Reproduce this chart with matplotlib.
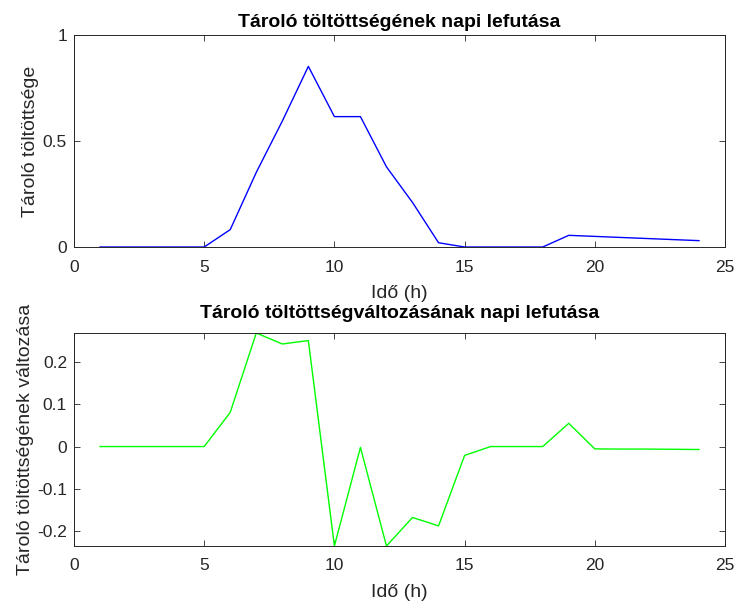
import matplotlib
matplotlib.use('Agg')
import matplotlib.pyplot as plt

plt.rcParams['font.family'] = ['Liberation Sans', 'DejaVu Sans']

# hours of the day
hours = list(range(1, 25))

# storage state of charge
charge = [0, 0, 0, 0, 0, 0.082, 0.352, 0.594, 0.852, 0.615, 0.615, 0.378,
          0.21, 0.02, 0, 0, 0, 0, 0.055, 0.05, 0.045, 0.04, 0.035, 0.03]

# change of state of charge
change = [0, 0, 0, 0, 0, 0.081, 0.269, 0.243, 0.251, -0.2356, -0.002, -0.2356,
          -0.168, -0.188, -0.021, 0, 0, 0, 0.055, -0.0055, -0.006, -0.006, -0.0065, -0.007]

text_col = '#262626'


def style(ax):
    ax.tick_params(direction='in', top=True, right=True, colors=text_col,
                   labelsize=12.5, length=4, width=0.6)
    ax.tick_params(axis='x', pad=9)
    ax.tick_params(axis='y', pad=5)
    for s in ax.spines.values():
        s.set_linewidth(0.7)
        s.set_color(text_col)
    ax.set_xlim(0, 25)
    ax.set_xticks([0, 5, 10, 15, 20, 25])


fig = plt.figure(figsize=(7.38, 6.02), dpi=100)
ax1 = fig.add_axes([74 / 738, 1 - 247 / 602, 651 / 738, 212 / 602])
ax2 = fig.add_axes([74 / 738, 1 - 546 / 602, 651 / 738, 213 / 602])

ax1.plot(hours, charge, color=(0, 0, 1), lw=1)
style(ax1)
ax1.set_ylim(0, 1)
ax1.set_yticks([0, 0.5, 1])
ax1.set_yticklabels(['0', '0.5', '1'])
ax1.set_title('Tároló töltöttségének napi lefutása', fontsize=14,
              fontweight='bold', color='black', pad=6)
ax1.set_xlabel('Idő (h)', fontsize=14, color=text_col, labelpad=7.5)
ax1.set_ylabel('Tároló töltöttsége', fontsize=14, color=text_col, labelpad=3)

ax2.plot(hours, change, color=(0, 1, 0), lw=1)
style(ax2)
ax2.set_ylim(min(change), max(change))
ax2.set_yticks([-0.2, -0.1, 0, 0.1, 0.2])
ax2.set_yticklabels(['-0.2', '-0.1', '0', '0.1', '0.2'])
ax2.set_title('Tároló töltöttségváltozásának napi lefutása', fontsize=14,
              fontweight='bold', color='black', pad=11)
ax2.set_xlabel('Idő (h)', fontsize=14, color=text_col, labelpad=7.5)
ax2.set_ylabel('Tároló töltöttségének változása', fontsize=14, color=text_col, labelpad=2)

fig.savefig('out.png', dpi=100)
